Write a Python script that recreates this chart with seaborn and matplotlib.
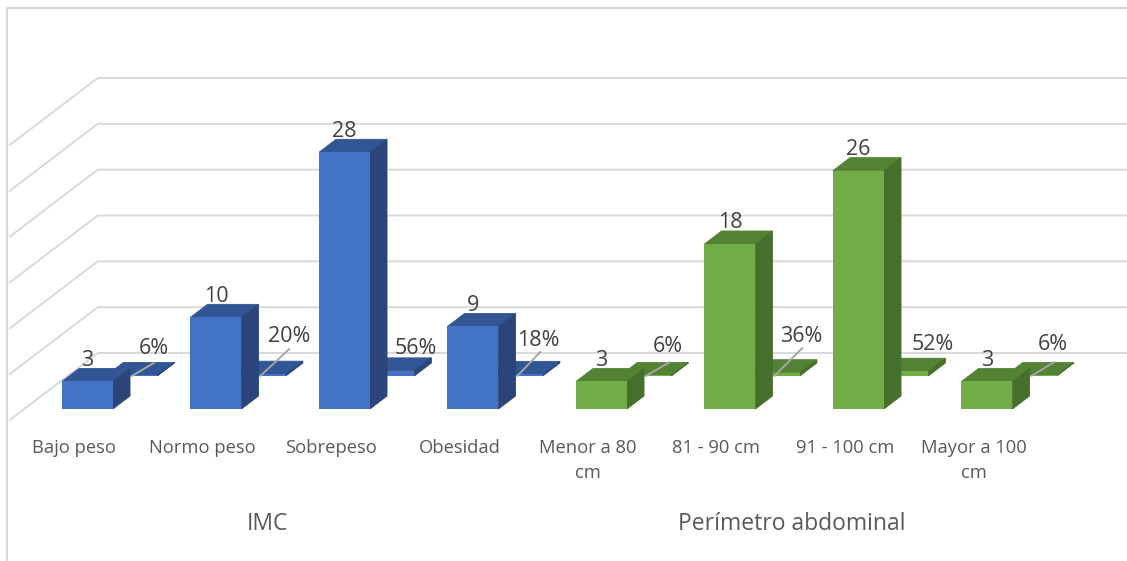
import matplotlib
matplotlib.use("Agg")
import matplotlib.pyplot as plt
from matplotlib.patches import Polygon
import numpy as np
import pandas as pd
import seaborn as sns

# Chart values
categorias = ["Bajo peso", "Normo peso", "Sobrepeso", "Obesidad",
              "Menor a 80\ncm", "81 - 90 cm", "91 - 100 cm", "Mayor a 100\ncm"]
grupos = ["IMC", "IMC", "IMC", "IMC",
          "Perímetro abdominal", "Perímetro abdominal",
          "Perímetro abdominal", "Perímetro abdominal"]
frecuencia = [3, 10, 28, 9, 3, 18, 26, 3]
porcentaje = [0.06, 0.20, 0.56, 0.18, 0.06, 0.36, 0.52, 0.06]
etiquetas_pct = ["6%", "20%", "56%", "18%", "6%", "36%", "52%", "6%"]

# Palette: front, top and side faces for each group
CARAS = {
    "IMC": ("#4472C4", "#325594", "#2A4678"),
    "Perímetro abdominal": ("#70AD47", "#548235", "#466F2C"),
}

W, H = 1127, 561
PX_X = 128.5            # pixels per category
PX_Y = 9.167            # pixels per unit of value
FLOOR_PX = 420          # pixel row of the front edge of the floor
LEFT_PX = 9.75          # pixel column of the front-left corner
DEPTH_X = 88 / PX_X     # full floor depth in x data units
DEPTH_Y = 67 / PX_Y     # full floor depth in y data units
BAR_W = 51 / PX_X
BAR_D = 13 / 67         # bar depth as a fraction of the floor depth
ROW_D = [11 / 67, 44 / 67]  # depth of each row of bars

sns.set_theme(style="white")
plt.rcParams["font.family"] = ["Open Sans", "DejaVu Sans"]

fig = plt.figure(figsize=(W / 100, H / 100), dpi=100)
ax = fig.add_axes([LEFT_PX / W, 1 - FLOOR_PX / H, (W - LEFT_PX) / W, FLOOR_PX / H])
xlim = (-0.5, -0.5 + (W - LEFT_PX) / PX_X)
ylim = (0, FLOOR_PX / PX_Y)

# Chart frame, open on the right and at the bottom
fig.add_artist(plt.Line2D([6.5 / W, 6.5 / W], [0, 1 - 7.5 / H], color="#D9D9D9", lw=1.4))
fig.add_artist(plt.Line2D([6.5 / W, 1], [1 - 7.5 / H, 1 - 7.5 / H], color="#D9D9D9", lw=1.4))

# Gridlines run across the left wall and then the back wall
for v in range(0, 35, 5):
    ax.plot([-0.5, -0.5 + DEPTH_X, xlim[1]], [v, v + DEPTH_Y, v + DEPTH_Y],
            color="#D9D9D9", lw=1.4, zorder=1, clip_on=False, solid_joinstyle="miter")

pos = np.arange(len(categorias))


def dibujar_fila(valores, d, z, ajuste_px):
    base = d * DEPTH_Y
    shift = d * DEPTH_X + ajuste_px / PX_X
    df = pd.DataFrame({"x": pos + shift, "valor": valores, "grupo": grupos})
    ddx, ddy = BAR_D * DEPTH_X, BAR_D * DEPTH_Y
    # Top and side faces go underneath the front face; thin same-colour edges close the seams
    for xc, v, g in zip(df["x"], df["valor"], df["grupo"]):
        _, top, side = CARAS[g]
        x0, x1 = xc - BAR_W / 2, xc + BAR_W / 2
        y0, y1 = base, base + v
        ax.add_patch(Polygon([(x0, y1), (x1, y1), (x1 + ddx, y1 + ddy), (x0 + ddx, y1 + ddy)],
                             closed=True, fc=top, ec=top, lw=0.6, zorder=z, clip_on=False))
        ax.add_patch(Polygon([(x1, y0), (x1 + ddx, y0 + ddy), (x1 + ddx, y1 + ddy), (x1, y1)],
                             closed=True, fc=side, ec=side, lw=0.6, zorder=z, clip_on=False))
    sns.barplot(data=df, x="x", y="valor", hue="grupo", palette={k: c[0] for k, c in CARAS.items()},
                native_scale=True, dodge=False, width=BAR_W, errorbar=None, legend=False,
                saturation=1, bottom=base, linewidth=0, zorder=z + 0.1, ax=ax)
    return df["x"].to_numpy(), base


xf2, base2 = dibujar_fila(porcentaje, ROW_D[1], 2, 0)
xf1, base1 = dibujar_fila(frecuencia, ROW_D[0], 3, -1)

ax.set_xlim(*xlim)
ax.set_ylim(*ylim)
ax.set_xlabel("")
ax.set_ylabel("")
ax.set_yticks([])
ax.set_xticks(pos, categorias)
ax.tick_params(axis="x", length=0, pad=13.6, labelsize=13.2, labelcolor="#595959")
for lab in ax.get_xticklabels():
    lab.set_linespacing(1.5)
ax.patch.set_alpha(0)
sns.despine(ax=ax, left=True, bottom=True)

# Value labels above the front row
ddy1 = BAR_D * DEPTH_Y
for xc, v in zip(xf1, frecuencia):
    ax.text(xc, base1 + v + ddy1 + 8 / PX_Y, str(v), ha="center", va="center",
            fontsize=15.5, color="#404040", zorder=5)

# Hand-placed percentage labels, offset from each plate; some have a leader line
lab_dx = [22, 29, 27, 21, 22, 27, 30, 22]
lab_dy = [28, 39, 28, 36, 30, 39, 31, 31]
lead_dx = [22, 29, None, 23, 24, 28, None, 23]
lead_dy = [13, 27, None, 24, 14, 28, None, 14]
for xc, txt, ldx, ldy, tdx, tdy in zip(xf2, etiquetas_pct, lab_dx, lab_dy, lead_dx, lead_dy):
    if tdx is not None:
        ax.plot([xc, xc + tdx / PX_X], [base2, base2 + tdy / PX_Y],
                color="#A6A6A6", lw=1.4, zorder=4, clip_on=False)
    ax.text(xc + ldx / PX_X, base2 + ldy / PX_Y, txt, ha="center", va="center",
            fontsize=15.5, color="#404040", zorder=5)

# Group captions under the category labels
for nombre, centro_px in [("IMC", 267), ("Perímetro abdominal", 792)]:
    ax.text((centro_px - LEFT_PX) / PX_X - 0.5, -(524 - FLOOR_PX) / PX_Y, nombre,
            ha="center", va="center", fontsize=16.5, color="#595959", clip_on=False)

fig.savefig("out.png", dpi=100, facecolor="white")
